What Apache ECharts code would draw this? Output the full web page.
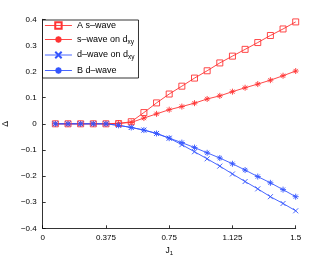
<!DOCTYPE html>
<html><head><meta charset="utf-8">
<script src="https://cdn.jsdelivr.net/npm/echarts@6/dist/echarts.min.js"></script>
<style>html,body{margin:0;padding:0;background:#fff}#c{width:327px;height:257px}</style>
</head><body><div id="c"></div>
<script>
const J1 = [0.075,0.15,0.225,0.3,0.375,0.45,0.525,0.6,0.675,0.75,0.825,0.9,0.975,1.05,1.125,1.2,1.275,1.35,1.425,1.5];
const aSwave = [0,0,0,0,0,0.001,0.008,0.043,0.08,0.114,0.144,0.175,0.203,0.233,0.259,0.285,0.311,0.338,0.363,0.390];
const sOnDxy = [0,0,0,0,0,0.002,0.005,0.022,0.038,0.054,0.066,0.079,0.095,0.107,0.123,0.138,0.152,0.167,0.184,0.202];
const dOnDxy = [0,0,0,0,0,-0.006,-0.014,-0.024,-0.037,-0.055,-0.080,-0.107,-0.134,-0.162,-0.192,-0.221,-0.249,-0.279,-0.305,-0.333];
const bDwave = [0,0,0,0,0,-0.006,-0.014,-0.024,-0.037,-0.055,-0.072,-0.091,-0.111,-0.131,-0.153,-0.177,-0.202,-0.226,-0.252,-0.279];
const names = ['A s–wave','s–wave on d_xy','d–wave on d_xy','B d–wave'];
const xTicks = ['0','0.375','0.75','1.125','1.5'];

const RED = '#ff3333', BLUE = '#3355ff';
const STAR = 'path://M5,0 L5,10 M0,5 L10,5 M1.5,1.5 L8.5,8.5 M8.5,1.5 L1.5,8.5';
const XMARK = 'path://M0,0 L10,10 M10,0 L0,10';
const FONT = 'Liberation Sans';

function pairs(ys){ return J1.map((x,i)=>[x, ys[i]]); }
function ser(name, ys, color, symbol, size, hollow){
  return {
    name, type:'line', data: pairs(ys), symbol, symbolSize:size, showAllSymbol:true,
    color,
    lineStyle:{color, width:0.9},
    itemStyle: {color: hollow ? 'rgba(255,255,255,0)' : color, borderColor:color, borderWidth:0.9},
    emphasis:{disabled:true}, animation:false
  };
}
const chart = echarts.init(document.getElementById('c'), null, {renderer:'canvas'});
chart.setOption({
  animation:false,
  grid:{left:42.7, right:31.3, top:19.3, bottom:28.7, containLabel:false, outerBoundsMode:'none'},
  xAxis:{type:'value', min:0, max:1.5, interval:0.375,
    name:'{j|J}{s|1}', nameLocation:'middle', nameGap:14,
    nameTextStyle:{rich:{j:{fontFamily:FONT,fontSize:8.5,color:'#000'},s:{fontFamily:FONT,fontSize:6,color:'#000',padding:[6,0,0,0]}}},
    axisLine:{onZero:false, lineStyle:{color:'#000', width:0.8}},
    axisTick:{inside:true, length:3, lineStyle:{color:'#000', width:0.8}},
    axisLabel:{fontFamily:FONT, fontSize:8, color:'#000', margin:5, formatter:(v)=>{const i=Math.round(v/0.375);return xTicks[i]||'';}},
    splitLine:{show:false}},
  yAxis:{type:'value', min:-0.4, max:0.4, interval:0.1,
    name:'Δ', nameLocation:'middle', nameGap:28, nameRotate:90,
    nameTextStyle:{fontFamily:FONT, fontSize:8.5, color:'#000'},
    axisLine:{show:true, lineStyle:{color:'#000', width:0.8}},
    axisTick:{show:true, inside:true, length:3, lineStyle:{color:'#000', width:0.8}},
    axisLabel:{fontFamily:FONT, fontSize:8, color:'#000', margin:6, formatter:(v)=>{const r=Math.round(v*10)/10; return r===0?'0':(r<0?'−'+(-r):String(r));}},
    splitLine:{show:false}},
  legend:{orient:'vertical', left:42.5, top:20, itemWidth:27, itemHeight:8, itemGap:5,
    padding:[1,4,3,2], borderColor:'#000', borderWidth:0.8, backgroundColor:'#fff',
    lineStyle:{width:0.9},
    textStyle:{fontFamily:FONT, fontSize:9, color:'#000', rich:{s:{fontFamily:FONT,fontSize:6.5,color:'#000',padding:[5,0,0,0]}}},
    formatter:(n)=> n.indexOf('_xy')>=0 ? n.replace('_xy','{s|xy}') : n,
    data:names},
  series:[
    ser(names[0], aSwave, RED, 'rect', 6, true),
    ser(names[1], sOnDxy, RED, STAR, 6),
    ser(names[2], dOnDxy, BLUE, XMARK, 5),
    ser(names[3], bDwave, BLUE, STAR, 6)
  ]
});
</script></body></html>
